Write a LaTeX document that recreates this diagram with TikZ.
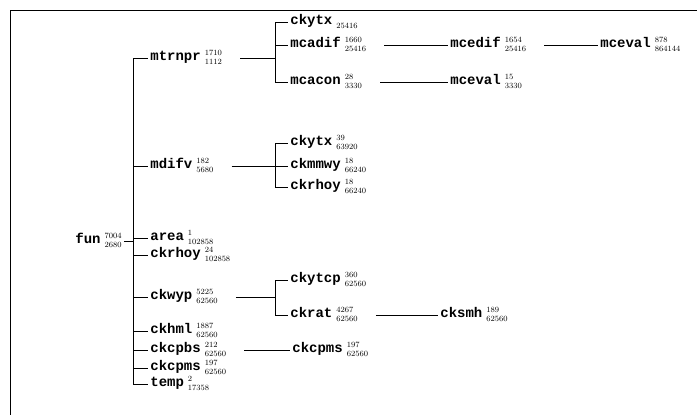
\documentclass[tikz,border=0pt]{standalone}
\usepackage{fontspec}
\newfontfamily\namefont{Liberation Mono}
\usetikzlibrary{positioning}

% name with call counts stacked on its right
\newcommand\fn[3]{{\namefont\bfseries #1}\hspace{4pt}{\fontsize{8}{9}\selectfont\begin{tabular}[c]{@{}l@{}}#2\\#3\end{tabular}}}

\begin{document}
\begin{tikzpicture}
  [x=1pt,y=-1pt,line width=.7pt,
   every node/.style={anchor=west,inner sep=2pt,font=\fontsize{14}{14}\selectfont},
   gap/.style={shorten <=16pt}]
  \useasboundingbox (0,0) rectangle (697,415);
  \draw[line width=1pt] (10,415) -- (10,10) -- (697,10);

  \node (fun) at (73,241) {\fn{fun}{7004}{2680}};
  \coordinate (b0) at (133,241);
  \node (mtrnpr) at (148,58) {\fn{mtrnpr}{1710}{1112}};
  \node (mdifv) at (148,166) {\fn{mdifv}{182}{5680}};
  \node (area) at (148,238) {\fn{area}{1}{102858}};
  \node (ckrhoyA) at (148,255) {\fn{ckrhoy}{24}{102858}};
  \node (ckwyp) at (148,297) {\fn{ckwyp}{5225}{62560}};
  \node (ckhml) at (148,331) {\fn{ckhml}{1887}{62560}};
  \node (ckcpbs) at (148,350) {\fn{ckcpbs}{212}{62560}};
  \node (ckcpmsA) at (148,368) {\fn{ckcpms}{197}{62560}};
  \node (temp) at (148,384) {\fn{temp}{2}{17358}};

  \coordinate (b1) at (275,58);
  \node (ckytxA) at (288,22) {\fn{ckytx}{}{25416}};
  \node (mcadif) at (288,45) {\fn{mcadif}{1660}{25416}};
  \node (mcacon) at (288,82) {\fn{mcacon}{28}{3330}};
  \node (mcedif) at (448,45) {\fn{mcedif}{1654}{25416}};
  \node (mcevalA) at (598,45) {\fn{mceval}{878}{864144}};
  \node (mcevalB) at (448,82) {\fn{mceval}{15}{3330}};

  \coordinate (b2) at (275,166);
  \node (ckytxB) at (288,143) {\fn{ckytx}{39}{63920}};
  \node (ckmmwy) at (288,166) {\fn{ckmmwy}{18}{66240}};
  \node (ckrhoyB) at (288,187) {\fn{ckrhoy}{18}{66240}};

  \coordinate (b3) at (275,297);
  \node (ckytcp) at (288,280) {\fn{ckytcp}{360}{62560}};
  \node (ckrat) at (288,315) {\fn{ckrat}{4267}{62560}};
  \node (cksmh) at (438,315) {\fn{cksmh}{189}{62560}};
  \node (ckcpmsB) at (290,350) {\fn{ckcpms}{197}{62560}};

  \draw (fun) -- (b0);
  \foreach \to in {mtrnpr,mdifv,area,ckrhoyA,ckwyp,ckhml,ckcpbs,ckcpmsA,temp}
    \draw (b0) |- (\to.west);
  \draw[gap] (mtrnpr) -- (b1);
  \draw[gap] (mdifv) -- (b2);
  \draw[gap] (ckwyp) -- (b3);
  \foreach \b/\to in {b1/ckytxA,b1/mcadif,b1/mcacon,b2/ckytxB,b2/ckmmwy,b2/ckrhoyB,b3/ckytcp,b3/ckrat}
    \draw (\b) |- (\to.west);
  \foreach \from/\to in {mcadif/mcedif,mcedif/mcevalA,mcacon/mcevalB,ckrat/cksmh,ckcpbs/ckcpmsB}
    \draw[gap] (\from) -- (\to);
\end{tikzpicture}
\end{document}
